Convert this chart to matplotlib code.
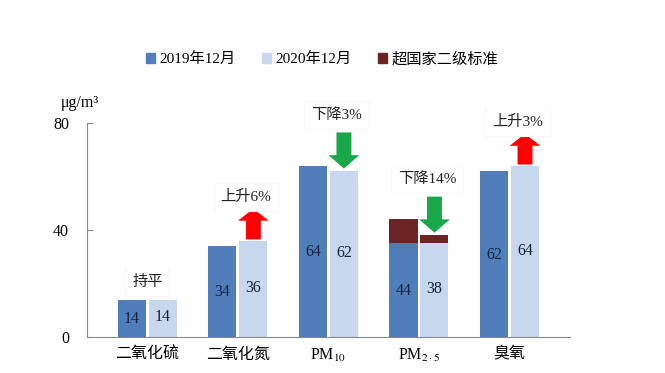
import numpy as np
import matplotlib
matplotlib.use("Agg")
import matplotlib.pyplot as plt
from matplotlib.patches import Patch

plt.rcParams['font.family'] = ['Liberation Serif', 'Noto Sans CJK SC', 'DejaVu Sans']
plt.rcParams['mathtext.fontset'] = 'stix'

# 数据
categories = ['二氧化硫', '二氧化氮', 'PM$_{10}$', 'PM$_{2\\cdot5}$', '臭氧']
v2019 = [14, 34, 64, 44, 62]
v2020 = [14, 36, 62, 38, 64]
over2019 = [0, 0, 0, 9, 0]   # 超国家二级标准部分
over2020 = [0, 0, 0, 3, 0]
changes = ['持平', '上升6%', '下降3%', '下降14%', '上升3%']
trend = [0, 1, -1, -1, 1]

c2019 = '#4f7ebb'
c2020 = '#c6d7ee'
cover = '#6b2323'
cup = '#ff0000'
cdown = '#18a84a'

fig = plt.figure(figsize=(6.65, 3.73), dpi=100)
ax = fig.add_axes([0.1308, 0.0965, 0.7262, 0.5735])

x = np.arange(len(categories))
w = 0.31
off = 0.171

base19 = np.array(v2019) - np.array(over2019)
base20 = np.array(v2020) - np.array(over2020)
ax.bar(x - off, base19, w, color=c2019)
ax.bar(x + off, base20, w, color=c2020)
ax.bar(x - off, over2019, w, bottom=base19, color=cover)
ax.bar(x + off, over2020, w, bottom=base20, color=cover)

for i in range(len(x)):
    ax.text(x[i] - off, base19[i] / 2 - 0.3, str(v2019[i]), ha='center', va='center',
            fontsize=11.5, color='#14233a')
    ax.text(x[i] + off, base20[i] / 2 + 0.3, str(v2020[i]), ha='center', va='center',
            fontsize=11.5, color='#14233a')

    # 箭头与变化标注
    top = max(v2019[i], v2020[i])
    if trend[i] > 0:
        ax.arrow(x[i] + off, v2020[i] + 0.5, 0, 11.5, width=0.165, head_width=0.34,
                 head_length=4.5, length_includes_head=True, color=cup, lw=0)
        ty = v2020[i] + 16.5
    elif trend[i] < 0:
        start = v2020[i] + 1 + 13.5
        ax.arrow(x[i] + off, start, 0, -13.5, width=0.165, head_width=0.34,
                 head_length=5, length_includes_head=True, color=cdown, lw=0)
        ty = start + 6.5
    else:
        ty = top + 6.5
    ax.text(x[i] + 0.09 if trend[i] else x[i], ty, changes[i], ha='center', va='center',
            fontsize=11, color='#222222',
            bbox=dict(boxstyle='square,pad=0.45', fc='white', ec='#f8f8f8', lw=0.8))

ax.set_xlim(-0.667, 4.667)
ax.set_ylim(0, 80)
ax.set_yticks([0, 40, 80])
ax.set_xticks(x)
ax.set_xticklabels(categories, fontsize=11.5)
ax.tick_params(axis='x', length=0, pad=7)
ax.tick_params(axis='y', direction='in', length=4, pad=13, labelsize=11.5, color='#888888')
for s in ['top', 'right']:
    ax.spines[s].set_visible(False)
ax.spines['left'].set_color('#888888')
ax.spines['bottom'].set_color('#888888')

fig.text(0.12, 0.725, 'μg/m³', ha='center', va='center', fontsize=11.5)

handles = [Patch(color=c2019, label='2019年12月'),
           Patch(color=c2020, label='2020年12月'),
           Patch(color=cover, label='超国家二级标准')]
fig.legend(handles=handles, loc='center', bbox_to_anchor=(0.484, 0.842), ncol=3,
           frameon=False, fontsize=11, handlelength=0.6, handleheight=0.6,
           handletextpad=0.3, columnspacing=1.7)

fig.savefig('out.png', dpi=100)
